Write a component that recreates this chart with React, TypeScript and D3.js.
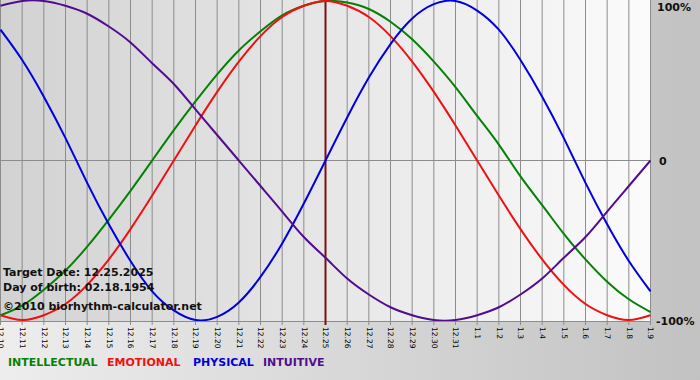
import React from "react";
import * as d3 from "d3";

const dates = [
  "12.10","12.11","12.12","12.13","12.14","12.15","12.16","12.17","12.18","12.19","12.20",
  "12.21","12.22","12.23","12.24","12.25","12.26","12.27","12.28","12.29","12.30","12.31",
  "1.1","1.2","1.3","1.4","1.5","1.6","1.7","1.8","1.9",
];

const intellectual = [
  -0.97,-0.91,-0.81,-0.69,-0.54,-0.37,-0.19,0.0,0.19,0.37,0.54,
  0.69,0.81,0.91,0.97,1.0,0.99,0.95,0.87,0.76,0.62,0.46,
  0.28,0.1,-0.1,-0.28,-0.46,-0.62,-0.76,-0.87,-0.95,
];
const emotional = [
  -0.97,-1.0,-0.97,-0.9,-0.78,-0.62,-0.43,-0.22,0.0,0.22,0.43,
  0.62,0.78,0.9,0.97,1.0,0.97,0.9,0.78,0.62,0.43,0.22,
  0.0,-0.22,-0.43,-0.62,-0.78,-0.9,-0.97,-1.0,-0.97,
];
const physical = [
  0.82,0.63,0.4,0.14,-0.14,-0.4,-0.63,-0.82,-0.94,-1.0,-0.98,
  -0.89,-0.73,-0.52,-0.27,0.0,0.27,0.52,0.73,0.89,0.98,1.0,
  0.94,0.82,0.63,0.4,0.14,-0.14,-0.4,-0.63,-0.82,
];
const intuitive = [
  0.97,1.0,1.0,0.97,0.92,0.84,0.74,0.61,0.48,0.32,0.16,
  0.0,-0.16,-0.32,-0.48,-0.61,-0.74,-0.84,-0.92,-0.97,-1.0,-1.0,
  -0.97,-0.92,-0.84,-0.74,-0.61,-0.48,-0.32,-0.16,0.0,
];

const yTicks = [
  { v: 1, label: "100%" },
  { v: 0, label: "0" },
  { v: -1, label: "-100%" },
];

const series = [
  { name: "INTELLECTUAL", values: intellectual, color: "#068006", legendX: 8 },
  { name: "EMOTIONAL", values: emotional, color: "#ee1111", legendX: 107 },
  { name: "PHYSICAL", values: physical, color: "#0000dd", legendX: 193 },
  { name: "INTUITIVE", values: intuitive, color: "#520c8e", legendX: 263 },
];

const targetDate = "12.25";
const infoLines = [
  "Target Date: 12.25.2025",
  "Day of birth: 02.18.1954",
  "\u00a92010 biorhythm-calculator.net",
];

export default function App() {
  const W = 700, H = 380;
  const plotW = 651, plotH = 321;
  const x = d3.scalePoint<string>().domain(dates).range([0.5, 650.5]);
  const y = d3.scaleLinear().domain([-1, 1]).range([320, 1]);
  const line = d3
    .line<number>()
    .x((_, i) => x(dates[i]) as number)
    .y((d) => y(d))
    .curve(d3.curveNatural);
  const font = "'DejaVu Sans', Verdana, sans-serif";
  const yLabelPos = (v: number) => (v > 0 ? { x: 657, y: 11 } : v === 0 ? { x: 659, y: 165 } : { x: 656, y: 325 });
  return (
    <svg
      width={W}
      height={H}
      style={{ position: "absolute", left: 0, top: 0, display: "block" }}
    >
      <defs>
        <linearGradient id="outerBg" x1="0" x2="1" y1="0" y2="0">
          <stop offset="0" stopColor="#ededed" />
          <stop offset="1" stopColor="#c2c2c2" />
        </linearGradient>
        <linearGradient id="plotBg" x1="0" x2="1" y1="0" y2="0">
          <stop offset="0" stopColor="#d2d2d2" />
          <stop offset="1" stopColor="#fbfbfb" />
        </linearGradient>
        <clipPath id="plotClip">
          <rect x={0} y={0} width={plotW} height={plotH} />
        </clipPath>
      </defs>
      <rect x={0} y={0} width={W} height={H} fill="url(#outerBg)" />
      <rect x={0} y={0} width={plotW} height={plotH} fill="url(#plotBg)" />
      {dates.map((d) => (
        <line
          key={"g" + d}
          x1={x(d)}
          x2={x(d)}
          y1={0}
          y2={plotH + 4}
          stroke="#8c8c8c"
          strokeWidth={1}
        />
      ))}
      <line x1={0} x2={plotW} y1={y(0)} y2={y(0)} stroke="#8c8c8c" strokeWidth={1} />
      <line x1={0} x2={plotW} y1={plotH + 0.5} y2={plotH + 0.5} stroke="#8c8c8c" strokeWidth={1} />
      <line
        x1={x(targetDate)}
        x2={x(targetDate)}
        y1={0}
        y2={plotH + 4}
        stroke="#7a1010"
        strokeWidth={2}
      />
      <g clipPath="url(#plotClip)">
        {series.map((s) => (
          <path key={s.name} d={line(s.values) || ""} fill="none" stroke={s.color} strokeWidth={2} />
        ))}
      </g>
      {dates.map((d) => (
        <text
          key={"t" + d}
          transform={`translate(${x(d)},${plotH + 6}) rotate(90)`}
          fontFamily="'DejaVu Sans', Verdana, sans-serif"
          fontSize={7.5}
          dominantBaseline="middle"
          textAnchor="start"
          fill="#000"
        >
          {d}
        </text>
      ))}
      {yTicks.map((t) => {
        const p = yLabelPos(t.v);
        return (
          <text
            key={"y" + t.label}
            x={p.x}
            y={p.y}
            fontFamily={font}
            fontWeight="bold"
            fontSize={11}
            fill="#111"
          >
            {t.label}
          </text>
        );
      })}
      {infoLines.map((l, i) => (
        <text
          key={"i" + i}
          x={3}
          y={[276, 291, 310][i]}
          fontFamily={font}
          fontWeight="bold"
          fontSize={11}
          fill="#111"
        >
          {l}
        </text>
      ))}
      {series.map((s) => (
        <text
          key={"l" + s.name}
          x={s.legendX}
          y={366}
          fontFamily={font}
          fontWeight="bold"
          fontSize={11}
          fill={s.color}
        >
          {s.name}
        </text>
      ))}
    </svg>
  );
}
